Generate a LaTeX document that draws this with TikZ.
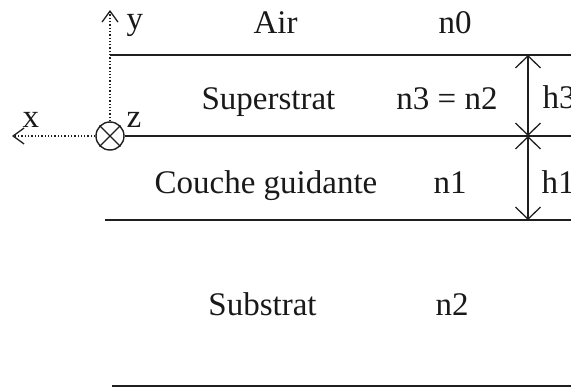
\documentclass[tikz,border=0pt]{standalone}
\usepackage{fontspec}
\setmainfont{Liberation Serif}
\usetikzlibrary{arrows.meta}
\begin{document}
\begin{tikzpicture}[x=1pt,y=-1pt,
  line width=1.4pt,
  txt/.style={font=\fontsize{33}{38}\selectfont, inner sep=0pt, anchor=base, text=black!90},
  layer/.style={draw=black!88, line width=1.6pt},
  axis/.style={draw=black!88, line width=1.3pt, dotted, -{Straight Barb[length=11pt,width=16pt,line width=1.3pt]}},
  dim/.style={draw=black!88, line width=1.3pt, {Straight Barb[length=12pt,width=25pt,line width=1.3pt]}-{Straight Barb[length=12pt,width=25pt,line width=1.3pt]}}]
\useasboundingbox (0,0) rectangle (571,388);
% origin symbol
\node[circle, draw=black!88, line width=1.4pt, minimum size=28pt, inner sep=0pt] (O) at (110,136) {};
\draw[black!88, line width=1.4pt] (O.north west) -- (O.south east) (O.north east) -- (O.south west);
% layer lines
\coordinate (L1a) at (110,55);  \coordinate (L1b) at (575,55);
\coordinate (L2b) at (575,136);
\coordinate (L3a) at (105,220); \coordinate (L3b) at (575,220);
\coordinate (L4a) at (112,386); \coordinate (L4b) at (575,386);
\draw[layer] (L1a) -- (L1b);
\draw[layer] (O.east) -- (L2b);
\draw[layer] (L3a) -- (L3b);
\draw[layer] (L4a) -- (L4b);
% axes
\coordinate (ytip) at (110,10);
\coordinate (xtip) at (12,136);
\draw[axis] (O.north) -- (ytip);
\draw[axis] (O.west) -- (xtip);
% dimension arrows
\coordinate (A1) at (528,55);
\coordinate (A2) at (528,136);
\coordinate (A3) at (528,220);
\draw[dim] (A1) -- (A2);
\draw[dim] (A2) -- (A3);
% labels
\node[txt] (air) at (275.5,33) {Air};
\node[txt] (n0) at (455,33) {n0};
\node[txt] (sup) at (268.5,109) {Superstrat};
\node[txt] (n3) at (447,109) {n3 = n2};
\node[txt] (cg) at (266,193) {Couche guidante};
\node[txt] (n1) at (450,193) {n1};
\node[txt] (sub) at (262.5,315) {Substrat};
\node[txt] (n2) at (452,315) {n2};
\node[txt, anchor=base west] (h3) at (542,108) {h3};
\node[txt, anchor=base west] (h1) at (541,193) {h1};
\node[txt, anchor=base west] (ly) at (126,30) {y};
\node[txt, anchor=base west] (lx) at (22,127) {x};
\node[txt, anchor=base west] (lz) at (126,127) {z};
\end{tikzpicture}
\end{document}
